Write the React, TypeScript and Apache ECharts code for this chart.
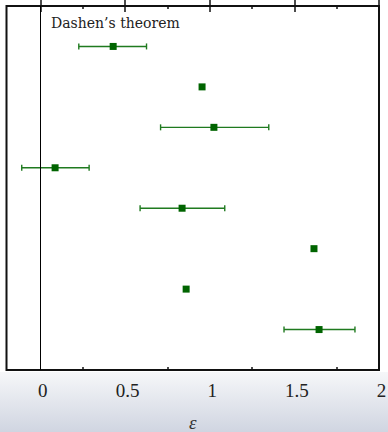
import React, { useEffect, useRef } from "react";
import * as echarts from "echarts";

const rowPositions = [1, 2, 3, 4, 5, 6, 7, 8];
const centralValues = [0.43, 0.955, 1.025, 0.087, 0.837, 1.616, 0.861, 1.646];
const lowerBounds: (number | null)[] = [0.227, null, 0.71, -0.11, 0.589, null, null, 1.439];
const upperBounds: (number | null)[] = [0.627, null, 1.349, 0.288, 1.089, null, null, 1.858];
const majorTicks = [0, 0.5, 1, 1.5, 2];
const minorTicks = [0.25, 0.75, 1.25, 1.75];
const tickLabels = ["0", "0.5", "1", "1.5", "2"];
const annotation = "Dashen\u2019s theorem";
const axisTitle = "\u03b5";

const X_MIN = -0.2;
const X_MAX = 2;
const SERIF = '"Liberation Serif", serif';

export default function App() {
  const ref = useRef<HTMLDivElement>(null);
  useEffect(() => {
    if (!ref.current) return;
    const chart = echarts.init(ref.current, undefined, { renderer: "svg" });

    const points = rowPositions.map((r, i) => [centralValues[i], r]);
    const bars = rowPositions
      .map((r, i) => [lowerBounds[i], upperBounds[i], r])
      .filter((d) => d[0] !== null && d[1] !== null);

    const labelFor = (v: number) => {
      const idx = majorTicks.findIndex((t) => Math.abs(t - v) < 1e-9);
      return idx >= 0 ? "{t|" + tickLabels[idx] + "}" : "";
    };

    const baseAxis = {
      type: "value",
      min: X_MIN,
      max: X_MAX,
      splitLine: { show: false },
      axisLine: { show: false },
    };

    chart.setOption({
      animation: false,
      backgroundColor: "#ffffff",
      textStyle: { fontFamily: SERIF },
      grid: {
        left: 6.5,
        right: 9,
        top: 6,
        bottom: 62,
        containLabel: false,
        outerBoundsMode: "none",
        show: true,
        borderColor: "#111",
        borderWidth: 2,
        backgroundColor: "transparent",
      },
      graphic: [
        {
          type: "rect",
          z: -1,
          silent: true,
          shape: { x: 0, y: 372, width: 388, height: 60 },
          style: {
            fill: new echarts.graphic.LinearGradient(0, 0, 0, 1, [
              { offset: 0, color: "#f6f7f9" },
              { offset: 1, color: "#d0d5e1" },
            ]),
          },
        },
        {
          type: "text",
          x: 51,
          y: 23,
          style: {
            text: annotation,
            font: '14px "DejaVu Serif"',
            fill: "#222",
            textVerticalAlign: "middle",
          },
        },
      ],
      xAxis: [
        {
          ...baseAxis,
          position: "bottom",
          name: "{e|" + axisTitle + "}",
          nameLocation: "middle",
          nameGap: 43,
          nameTextStyle: {
            fontFamily: SERIF,
            fontStyle: "italic",
            fontSize: 19,
            color: "#333",
            rich: {
              e: { fontFamily: SERIF, fontStyle: "italic", fontSize: 19, color: "#333" },
            },
          },
          axisTick: {
            show: true,
            inside: true,
            length: 6,
            lineStyle: { color: "#111", width: 1.5 },
            customValues: majorTicks,
          },
          axisLabel: {
            show: true,
            margin: 11,
            padding: [0, 0, 0, 5],
            fontFamily: SERIF,
            fontSize: 19,
            color: "#222",
            customValues: majorTicks,
            formatter: (v: number) => labelFor(v),
            rich: {
              t: { fontFamily: SERIF, fontSize: 19, color: "#222" },
            },
          },
        },
        {
          ...baseAxis,
          position: "bottom",
          axisTick: {
            show: true,
            inside: true,
            length: 3,
            lineStyle: { color: "#111", width: 1.5 },
            customValues: minorTicks,
          },
          axisLabel: { show: false },
        },
        {
          ...baseAxis,
          position: "top",
          axisTick: {
            show: true,
            inside: true,
            length: 6,
            lineStyle: { color: "#111", width: 1.5 },
            customValues: majorTicks,
          },
          axisLabel: { show: false },
        },
        {
          ...baseAxis,
          position: "top",
          axisTick: {
            show: true,
            inside: true,
            length: 3,
            lineStyle: { color: "#111", width: 1.5 },
            customValues: minorTicks,
          },
          axisLabel: { show: false },
        },
      ],
      yAxis: {
        type: "value",
        min: 0,
        max: 9,
        inverse: true,
        show: false,
      },
      series: [
        {
          type: "custom",
          xAxisIndex: 0,
          renderItem: (params: any, api: any) => {
            const lo = api.coord([api.value(0), api.value(2)]);
            const hi = api.coord([api.value(1), api.value(2)]);
            const h = 3;
            const style = { stroke: "#1f7a1f", lineWidth: 1.4 };
            return {
              type: "group",
              children: [
                { type: "line", shape: { x1: lo[0], y1: lo[1], x2: hi[0], y2: hi[1] }, style },
                { type: "line", shape: { x1: lo[0], y1: lo[1] - h, x2: lo[0], y2: lo[1] + h }, style },
                { type: "line", shape: { x1: hi[0], y1: hi[1] - h, x2: hi[0], y2: hi[1] + h }, style },
              ],
            };
          },
          encode: { x: [0, 1], y: 2 },
          data: bars,
          z: 2,
        },
        {
          type: "scatter",
          xAxisIndex: 0,
          symbol: "rect",
          symbolSize: 7,
          itemStyle: { color: "#006400", opacity: 1 },
          data: points,
          z: 3,
          markLine: {
            silent: true,
            symbol: ["none", "none"],
            label: { show: false },
            lineStyle: { color: "#000", width: 1, type: "solid" },
            data: [{ xAxis: 0 }],
          },
        },
      ],
    });
    return () => chart.dispose();
  }, []);
  return (
    <div
      ref={ref}
      style={{ position: "fixed", left: 0, top: 0, width: 388, height: 432 }}
    />
  );
}
